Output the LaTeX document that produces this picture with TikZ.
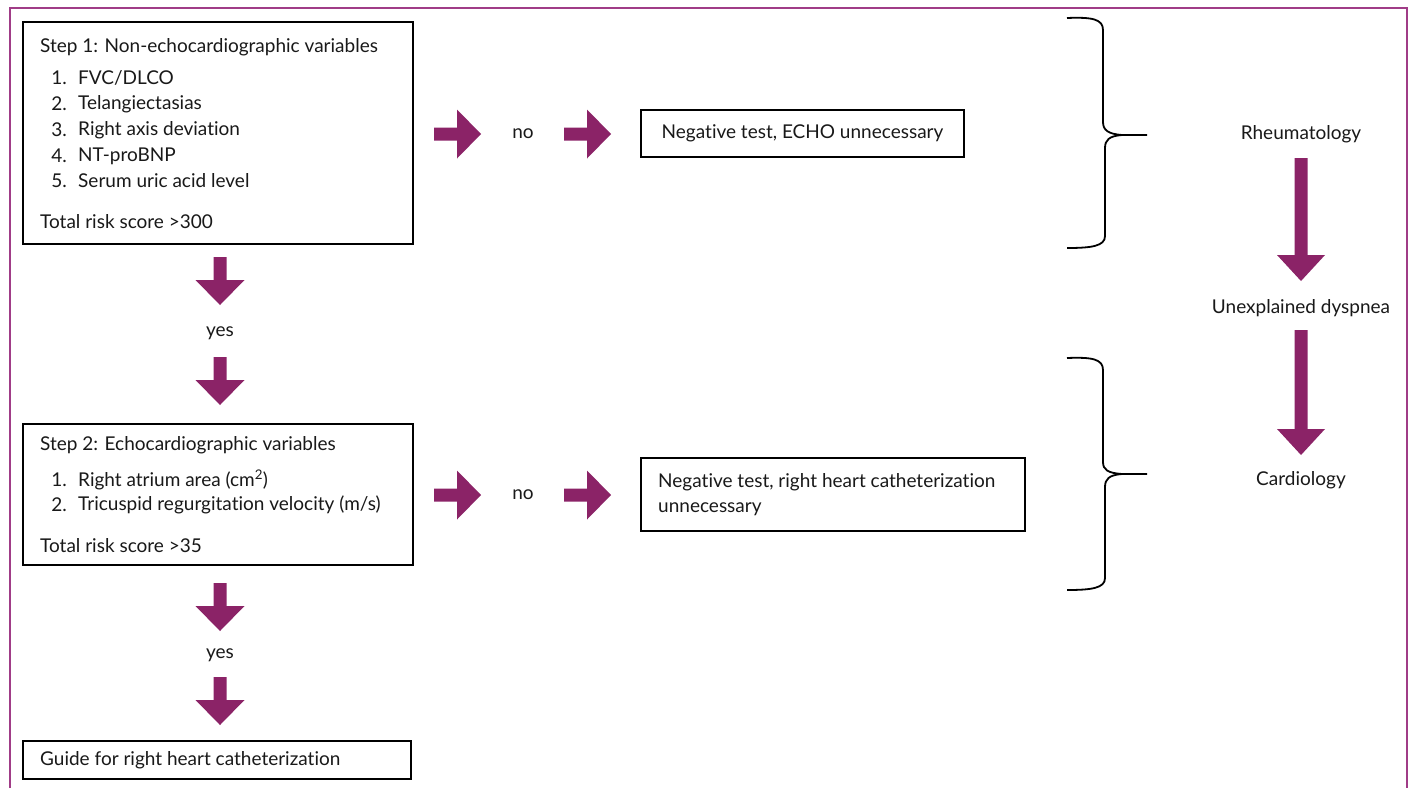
\documentclass[tikz,border=0pt]{standalone}
\usepackage{fontspec}
\setmainfont{Lato}[Ligatures=CommonOff]
\definecolor{pur}{RGB}{139,35,103}
\definecolor{frm}{RGB}{160,60,135}
\begin{document}
\begin{tikzpicture}[x=1pt,y=-1pt,
  every node/.style={font=\fontsize{19}{22}\selectfont, inner sep=0pt, text=black!90},
  box/.style={draw=black, line width=1.2pt, rectangle},
  tl/.style={anchor=west},
  num/.style={anchor=east},
  harrow/.pic={\fill[pur] (0,-6.5) -- (23,-6.5) -- (23,-24.5) -- (47,0) -- (23,24.5) -- (23,6.5) -- (0,6.5) -- cycle;},
  varrow/.pic={\fill[pur] (-6.5,0) -- (6.5,0) -- (6.5,23) -- (24.5,23) -- (0,48) -- (-24.5,23) -- (-6.5,23) -- cycle;},
  brace/.style={line width=1.8pt, black}
]
\useasboundingbox (0,0) rectangle (1410,788);
\fill[white] (0,0) rectangle (1410,788);
% frame
\draw[frm, line width=1.3pt] (10,788) -- (10,8) -- (1407,8) -- (1407,788);

% Step 1 box
\node[box, minimum width=390pt, minimum height=222pt] (b1) at (218,133) {};
\node[tl] (s1) at (40,47) {Step 1: Non-echocardiographic variables};
\node[num] (n11) at (67,78) {1.};  \node[tl] (t11) at (78,78) {FVC/DLCO};
\node[num] (n12) at (67,104) {2.}; \node[tl] (t12) at (78,104) {Telangiectasias};
\node[num] (n13) at (67,130) {3.}; \node[tl] (t13) at (78,130) {Right axis deviation};
\node[num] (n14) at (67,156) {4.}; \node[tl] (t14) at (78,156) {NT-proBNP};
\node[num] (n15) at (67,181) {5.}; \node[tl] (t15) at (78,181) {Serum uric acid level};
\node[tl] (r1) at (40,222) {Total risk score >300};

% row 1 horizontal arrows
\pic at (434,134) {harrow};
\node (no1) at (523,134) {no};
\pic at (564,134) {harrow};
\node[box, minimum width=323pt, minimum height=47pt] (neg1) at (802.5,133.5) {Negative test, ECHO unnecessary};

% yes arrows 1
\pic at (220,257) {varrow};
\node (yes1) at (220,333) {yes};
\pic at (220,357) {varrow};

% Step 2 box
\node[box, minimum width=390pt, minimum height=141pt] (b2) at (218,494.5) {};
\node[tl] (s2) at (40,445) {Step 2: Echocardiographic variables};
\node[num] (n21) at (67,480) {1.}; \node[tl] (t21) at (78,480) {Right atrium area (cm\textsuperscript{2})};
\node[num] (n22) at (67,505) {2.}; \node[tl] (t22) at (78,505) {Tricuspid regurgitation velocity (m/s)};
\node[tl] (r2) at (40,546) {Total risk score >35};

% row 2 horizontal arrows
\pic at (434,495) {harrow};
\node (no2) at (523,495) {no};
\pic at (564,495) {harrow};
\node[draw=black, line width=2pt, minimum width=384pt, minimum height=73pt] (neg2) at (833,494.5) {};
\node[tl] (neg2a) at (658,482) {Negative test, right heart catheterization};
\node[tl] (neg2b) at (658,509) {unnecessary};

% yes arrows 2
\pic at (220,583) {varrow};
\node (yes2) at (220,655) {yes};
\pic at (220,677) {varrow};

% Guide box
\node[box, minimum width=388pt, minimum height=38pt] (b3) at (217,760) {};
\node[tl] (g) at (40,760) {Guide for right heart catheterization};

% braces
\draw[brace] (1067,18) .. controls (1092,17) and (1103,19) .. (1103,30) -- (1103,122)
  .. controls (1103,130) and (1108,134) .. (1122,135) -- (1147,135);
\draw[brace] (1122,135) .. controls (1109,136) and (1105,140) .. (1105,148) -- (1105,236)
  .. controls (1105,246) and (1092,248) .. (1067,248);

\draw[brace] (1067,358) .. controls (1092,357) and (1103,359) .. (1103,370) -- (1103,462)
  .. controls (1103,470) and (1108,473) .. (1122,474) -- (1147,474);
\draw[brace] (1122,474) .. controls (1109,475) and (1105,479) .. (1105,487) -- (1105,578)
  .. controls (1105,588) and (1092,590) .. (1067,590);

% right column
\node (rheu) at (1301,134) {Rheumatology};
\fill[pur] (1294.5,158) -- (1307.5,158) -- (1307.5,255) -- (1325,255) -- (1301,281) -- (1277,255) -- (1294.5,255) -- cycle;
\node (dysp) at (1301,308) {Unexplained dyspnea};
\fill[pur] (1294.5,330) -- (1307.5,330) -- (1307.5,429) -- (1325,429) -- (1301,455) -- (1277,429) -- (1294.5,429) -- cycle;
\node (card) at (1301,480) {Cardiology};
\end{tikzpicture}
\end{document}
